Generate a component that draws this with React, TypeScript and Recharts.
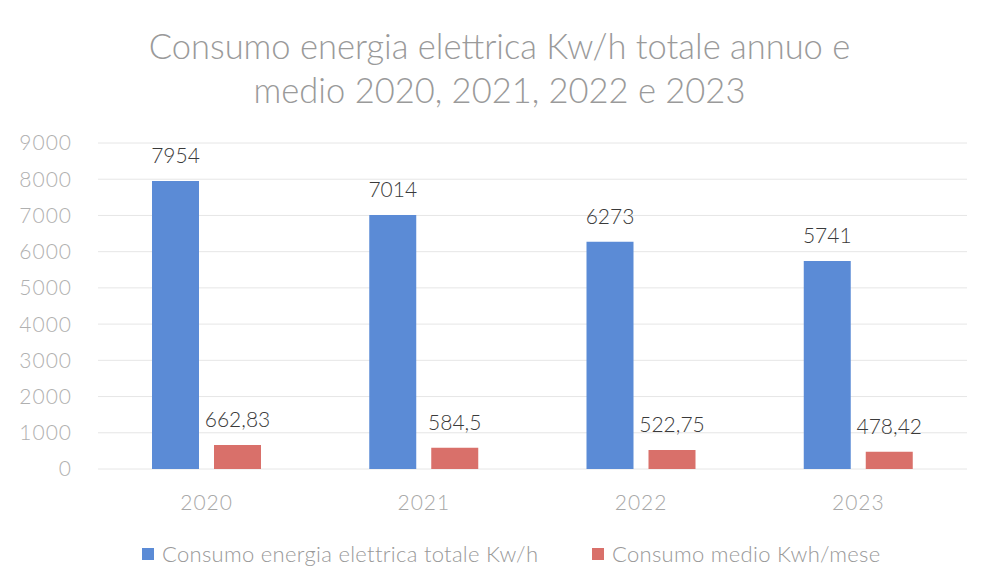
import React from 'react';
import { BarChart, Bar, XAxis, YAxis, CartesianGrid, Legend, LabelList } from 'recharts';

const categories = ['2020', '2021', '2022', '2023'];
const totale = [7954, 7014, 6273, 5741];
const medio = [662.83, 584.5, 522.75, 478.42];
const yTicks = [0, 1000, 2000, 3000, 4000, 5000, 6000, 7000, 8000, 9000];
const titleLines = ['Consumo energia elettrica Kw/h totale annuo e', 'medio 2020, 2021, 2022 e 2023'];
const seriesNames = ['Consumo energia elettrica totale Kw/h', 'Consumo medio Kwh/mese'];

const data = categories.map((c, i) => ({ year: c, totale: totale[i], medio: medio[i] }));

const FONT = 'Lato, "Liberation Sans", sans-serif';
const BLUE = '#5b8bd6';
const RED = '#d9706a';

const fmt = (v: any) => String(v).replace('.', ',');

const LegendContent = () => (
  <div style={{ position: 'relative', height: 24, width: 987, fontFamily: FONT, fontSize: 22, color: '#999999', fontWeight: 300, letterSpacing: 0.3 }}>
    <div style={{ position: 'absolute', left: 142, top: 0, display: 'flex', alignItems: 'center', whiteSpace: 'nowrap' }}>
      <span style={{ display: 'inline-block', width: 12, height: 12, background: BLUE, marginRight: 8 }} />
      <span>{seriesNames[0]}</span>
    </div>
    <div style={{ position: 'absolute', left: 592, top: 0, display: 'flex', alignItems: 'center', whiteSpace: 'nowrap' }}>
      <span style={{ display: 'inline-block', width: 12, height: 12, background: RED, marginRight: 8 }} />
      <span>{seriesNames[1]}</span>
    </div>
  </div>
);

export default function App() {
  return (
    <div style={{ position: 'absolute', left: 0, top: 0, width: 987, height: 578, background: '#fff' }}>
      <div style={{ position: 'absolute', left: 0, top: 24, width: 987, textAlign: 'center', fontFamily: FONT, fontSize: 34.5, fontWeight: 300, color: '#9a9a9a', lineHeight: '44px' }}>
        {titleLines.map((t) => (
          <div key={t} style={{ paddingLeft: 12 }}>{t}</div>
        ))}
      </div>
      <BarChart
        width={987}
        height={578}
        data={data}
        margin={{ top: 143, right: 20, left: 0, bottom: 14 }}
        barSize={47}
        barGap={15}
      >
        <CartesianGrid vertical={false} stroke="#e6e6e6" />
        <XAxis
          dataKey="year"
          axisLine={false}
          tickLine={false}
          tickSize={0}
          tickMargin={26}
          height={71}
          tick={{ fontFamily: FONT, fontSize: 21, fontWeight: 300, fill: '#a8a8a8', letterSpacing: 1 }}
        />
        <YAxis
          width={98}
          domain={[0, 9000]}
          ticks={yTicks}
          axisLine={false}
          tickLine={false}
          tickSize={0}
          tickMargin={26}
          tick={{ fontFamily: FONT, fontSize: 21, fontWeight: 300, fill: '#b0b0b0', letterSpacing: 1 }}
        />
        <Legend verticalAlign="bottom" height={24} content={<LegendContent />} />
        <Bar dataKey="totale" name={seriesNames[0]} fill={BLUE} isAnimationActive={false}>
          <LabelList dataKey="totale" position="top" offset={18} formatter={fmt} style={{ fontFamily: FONT, fontSize: 21, fontWeight: 300, fill: '#3a3a3a' }} />
        </Bar>
        <Bar dataKey="medio" name={seriesNames[1]} fill={RED} isAnimationActive={false}>
          <LabelList dataKey="medio" position="top" offset={18} formatter={fmt} style={{ fontFamily: FONT, fontSize: 21, fontWeight: 300, fill: '#3a3a3a' }} />
        </Bar>
      </BarChart>
    </div>
  );
}
